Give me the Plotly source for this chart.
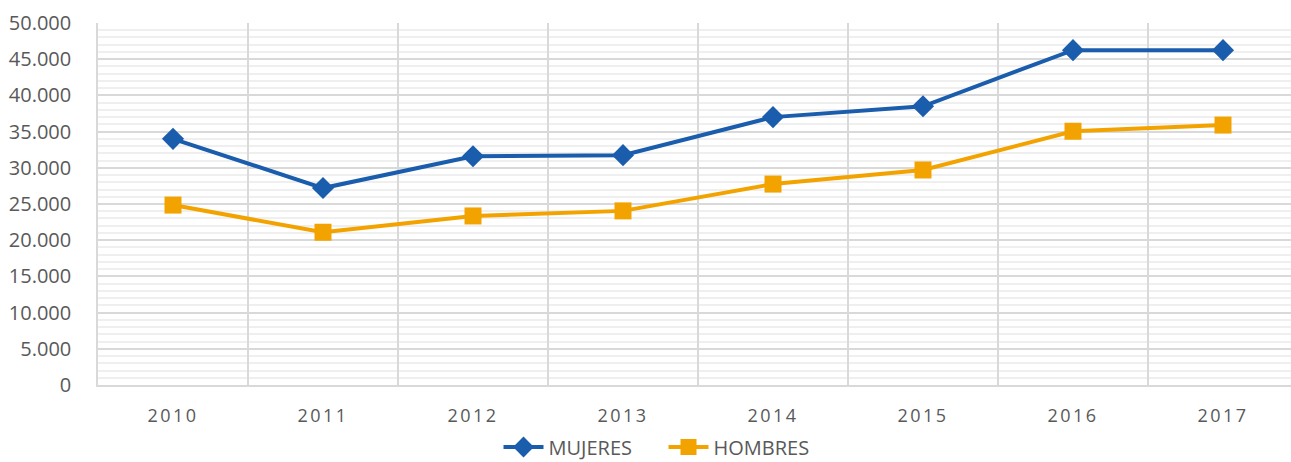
import plotly.graph_objects as go

years = ["2010", "2011", "2012", "2013", "2014", "2015", "2016", "2017"]
mujeres = [34000, 27200, 31600, 31750, 37000, 38500, 46250, 46250]
hombres = [24850, 21100, 23350, 24050, 27750, 29700, 35050, 35900]

blue = "#1A5DAD"
orange = "#F2A300"

fig = go.Figure()
fig.add_trace(go.Scatter(x=years, y=mujeres, name="MUJERES", mode="lines+markers",
                         line=dict(color=blue, width=4),
                         marker=dict(symbol="diamond", size=17, color=blue)))
fig.add_trace(go.Scatter(x=years, y=hombres, name="HOMBRES", mode="lines+markers",
                         line=dict(color=orange, width=4),
                         marker=dict(symbol="square", size=17, color=orange)))

fig.update_layout(
    width=1291, height=462,
    margin=dict(l=98, r=0, t=23, b=77),
    paper_bgcolor="white", plot_bgcolor="white",
    separators=",.",
    font=dict(family="Open Sans, Liberation Sans, sans-serif", color="#595959"),
    showlegend=True,
    legend=dict(orientation="h", xref="container", x=0.5 + 18 / 1291, xanchor="center",
                yref="container", y=1 - 447 / 462, yanchor="middle",
                font=dict(size=20, color="#595959"), itemwidth=40,
                entrywidth=110, entrywidthmode="pixels"),
    xaxis=dict(type="category", range=[-0.5, -0.5 + 1193 / 150], tickson="boundaries",
               showgrid=True, gridcolor="#d9d9d9", gridwidth=1.5,
               showline=True, linecolor="#d9d9d9", linewidth=1.5,
               ticks="", tickfont=dict(size=18, color="#595959"), ticklabelstandoff=14,
               fixedrange=True),
    yaxis=dict(range=[0, 50000], dtick=5000, tickformat=",d",
               showgrid=True, gridcolor="#d9d9d9", gridwidth=1.5,
               showline=True, linecolor="#d9d9d9", linewidth=1.5,
               zeroline=False,
               minor=dict(dtick=1000, showgrid=True, gridcolor="#efefef", gridwidth=1.5),
               ticks="", tickfont=dict(size=20, color="#595959"), ticklabelstandoff=21),
)

post = """
document.body.style.margin = '0';
document.querySelectorAll('.xtick text').forEach(function(t){ t.style.letterSpacing = '2.5px'; });
"""
fig.write_html("out.html", post_script=post, config={"displayModeBar": False})
